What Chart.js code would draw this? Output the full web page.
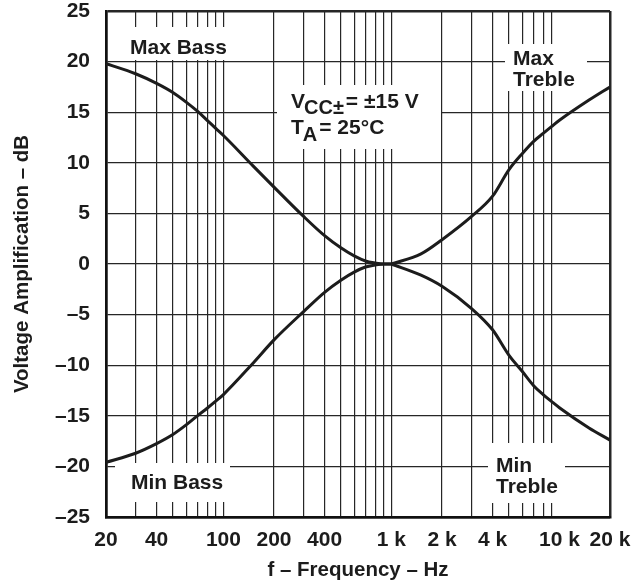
<!DOCTYPE html>
<html>
<head>
<meta charset="utf-8">
<script src="https://cdn.jsdelivr.net/npm/chart.js@4.4.1/dist/chart.umd.min.js"></script>
<style>
  html, body { margin: 0; padding: 0; background: #ffffff; }
  #wrap { width: 631px; height: 587px; }
</style>
</head>
<body>
<div id="wrap"><canvas id="c" width="631" height="587"></canvas></div>
<script>
// ---- Data ----
const bassFreqs   = [20, 30, 40, 50, 60, 70, 80, 90, 100, 150, 200, 300, 400, 500, 600, 700, 800, 900, 1000];
const maxBass     = [19.8, 18.8, 17.85, 16.95, 16.0, 15.1, 14.2, 13.4, 12.7, 9.7, 7.6, 4.7, 2.8, 1.6, 0.8, 0.3, 0.1, 0.0, 0.0];
const minBass     = [-19.6, -18.7, -17.75, -16.85, -15.9, -15.0, -14.25, -13.55, -12.9, -9.8, -7.5, -4.7, -2.8, -1.6, -0.8, -0.3, -0.1, 0.0, 0.0];
const trebleFreqs = [1000, 1500, 2000, 3000, 4000, 5000, 6000, 7000, 8000, 9000, 10000, 15000, 20000];
const maxTreble   = [0.0, 1.0, 2.4, 4.7, 6.7, 9.3, 10.9, 12.1, 12.9, 13.6, 14.2, 16.2, 17.5];
const minTreble   = [0.0, -1.1, -2.2, -4.4, -6.5, -9.0, -10.6, -12.0, -12.9, -13.6, -14.2, -16.2, -17.4];

const gridFreqs = [20, 30, 40, 50, 60, 70, 80, 90, 100, 200, 300, 400, 500, 600, 700, 800, 900,
                   1000, 2000, 3000, 4000, 5000, 6000, 7000, 8000, 9000, 10000, 20000];
const xTickValues = [20, 40, 100, 200, 400, 1000, 2000, 4000, 10000, 20000];
const xTickLabels = ['20', '40', '100', '200', '400', '1 k', '2 k', '4 k', '10 k', '20 k'];
const hiddenGridFreqs = [10000];

const FONT = 'Liberation Sans, Arial, Helvetica, sans-serif';
const INK = '#1c1c1c';

function pts(xs, ys) { return xs.map((x, i) => ({ x: x, y: ys[i] })); }

function lineDs(label, xs, ys) {
  return {
    label: label, data: pts(xs, ys), showLine: true,
    borderColor: INK, borderWidth: 3, pointRadius: 0,
    cubicInterpolationMode: 'monotone', fill: false
  };
}

const labelBoxes = {
  id: 'labelBoxes',
  beforeDatasetsDraw(chart) {
    const ctx = chart.ctx;
    ctx.save();
    ctx.fillStyle = '#ffffff';
    const boxes = [
      [128, 27, 102, 33],   // Max Bass
      [277, 85, 164, 64],   // Vcc / TA
      [505, 44, 82, 47],    // Max Treble
      [115, 463, 115, 39],  // Min Bass
      [488, 443, 77, 60]    // Min Treble
    ];
    boxes.forEach(b => ctx.fillRect(b[0], b[1], b[2], b[3]));
    ctx.fillStyle = INK;
    ctx.textBaseline = 'alphabetic';
    ctx.textAlign = 'left';
    ctx.font = 'bold 21px ' + FONT;
    ctx.fillText('Max Bass', 130, 54);
    ctx.fillText('Max', 513, 65);
    ctx.fillText('Treble', 513, 86);
    ctx.fillText('Min Bass', 131, 489);
    ctx.fillText('Min', 496, 472);
    ctx.fillText('Treble', 496, 493);
    // V_CC± = ±15 V
    let x = 291;
    ctx.fillText('V', x, 108);
    x += ctx.measureText('V').width - 1;
    ctx.font = 'bold 20px ' + FONT;
    ctx.fillText('CC\u00B1', x, 114);
    x += ctx.measureText('CC\u00B1').width + 2;
    ctx.font = 'bold 21px ' + FONT;
    ctx.fillText('= \u00B115 V', x, 108);
    // T_A = 25°C
    x = 291;
    ctx.fillText('T', x, 134);
    x += ctx.measureText('T').width - 1;
    ctx.font = 'bold 20px ' + FONT;
    ctx.fillText('A', x, 141);
    x += ctx.measureText('A').width + 2;
    ctx.font = 'bold 21px ' + FONT;
    ctx.fillText('= 25\u00B0C', x, 134);
    ctx.restore();
  }
};

new Chart(document.getElementById('c'), {
  type: 'scatter',
  data: {
    datasets: [
      lineDs('Max Bass', bassFreqs, maxBass),
      lineDs('Min Bass', bassFreqs, minBass),
      lineDs('Max Treble', trebleFreqs, maxTreble),
      lineDs('Min Treble', trebleFreqs, minTreble)
    ]
  },
  plugins: [labelBoxes],
  options: {
    responsive: false,
    animation: false,
    layout: { padding: { top: 11, right: 21, bottom: 0, left: 0 } },
    plugins: { legend: { display: false }, tooltip: { enabled: false } },
    scales: {
      x: {
        type: 'logarithmic', min: 20, max: 20000,
        afterBuildTicks: s => { s.ticks = gridFreqs.map(v => ({ value: v })); },
        afterFit: s => { s.height = 70; s.paddingLeft = 0; s.paddingRight = 0; },
        ticks: {
          autoSkip: false, maxRotation: 0, minRotation: 0, padding: 11,
          color: INK, font: { family: FONT, size: 21, weight: 'bold' },
          callback: v => { const i = xTickValues.indexOf(v); return i >= 0 ? xTickLabels[i] : ''; }
        },
        grid: {
          drawTicks: false,
          color: c => (c.tick && hiddenGridFreqs.includes(c.tick.value)) ? 'rgba(0,0,0,0)' : '#262626',
          lineWidth: c => (c.tick && (c.tick.value === 20 || c.tick.value === 20000)) ? 2.5 : 1.2
        },
        border: { display: true, width: 2.5, color: '#111' },
        title: {
          display: true, text: 'f \u2013 Frequency \u2013 Hz', color: INK,
          font: { family: FONT, size: 20.5, weight: 'bold' }, padding: { top: 0, bottom: 4 }
        }
      },
      y: {
        min: -25, max: 25,
        afterFit: s => { s.width = 106; s.paddingTop = 0; s.paddingBottom = 0; },
        ticks: {
          stepSize: 5, padding: 16, color: INK,
          font: { family: FONT, size: 21, weight: 'bold' },
          callback: v => v < 0 ? '\u2013' + Math.abs(v) : String(v)
        },
        grid: {
          drawTicks: false, color: '#262626',
          lineWidth: c => (c.tick && (c.tick.value === 25 || c.tick.value === -25)) ? 2.5 : 1.2
        },
        border: { display: true, width: 2.5, color: '#111' },
        title: {
          display: true, text: 'Voltage Amplification \u2013 dB', color: INK,
          font: { family: FONT, size: 20.5, weight: 'bold' }, padding: { top: 10, bottom: 0 }
        }
      }
    }
  }
});
</script>
</body>
</html>
